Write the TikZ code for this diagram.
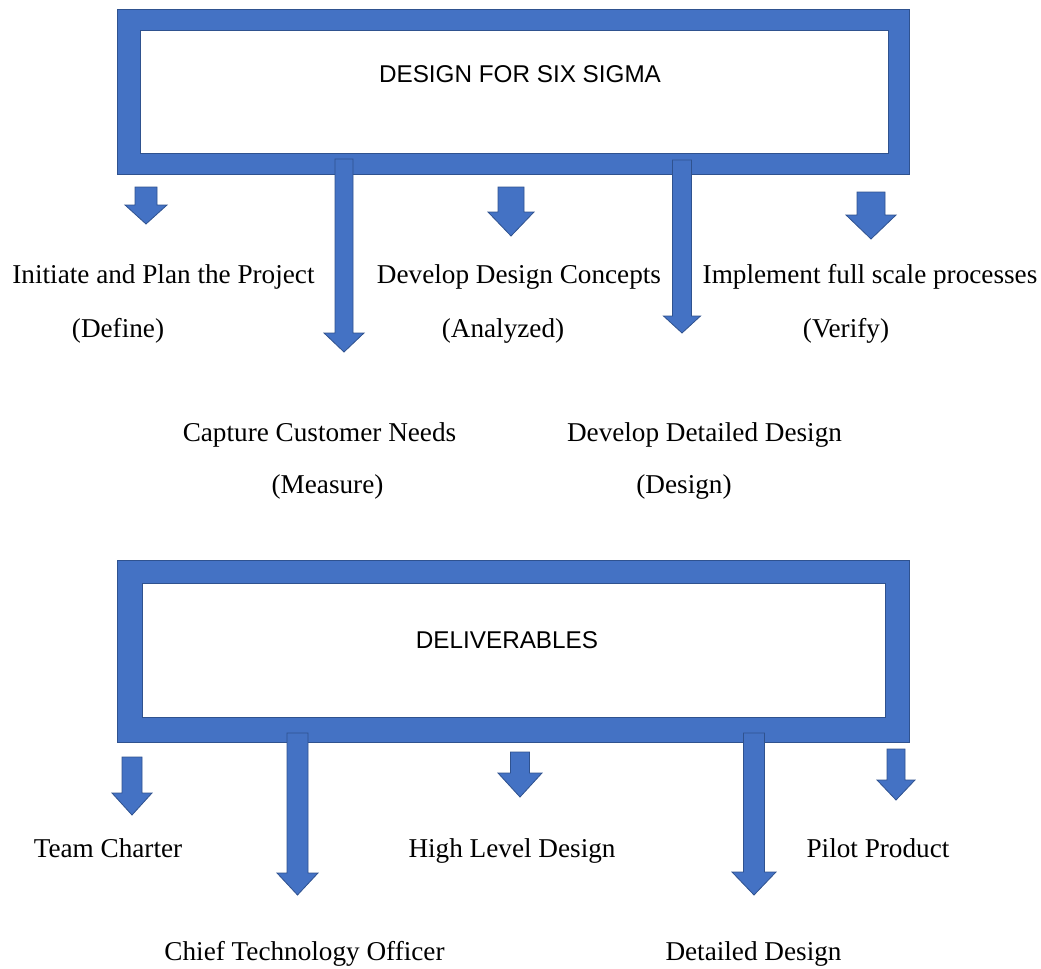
\documentclass[tikz,border=0pt]{standalone}
\usepackage{fontspec}
\setmainfont{Liberation Serif}
\setsansfont{Liberation Sans}
\usetikzlibrary{calc}

\definecolor{boxblue}{HTML}{4472C4}
\definecolor{edgeblue}{HTML}{2F528F}

% block arrow pointing down from a named top point to a named tip point
% #1 top, #2 tip, #3 shaft half width, #4 head half width, #5 head length (px)
\newcommand\blockdown[5]{%
  \path[arrowfill] let \p1=(#1), \p2=(#2) in
    ($(\x1,\y1)+(-#3,0)$) -- ($(\x1,\y1)+(#3,0)$) -- ($(\x1,\y2)+(#3,-#5)$)
    -- ($(\x1,\y2)+(#4,-#5)$) -- (\x1,\y2) -- ($(\x1,\y2)+(-#4,-#5)$)
    -- ($(\x1,\y2)+(-#3,-#5)$) -- cycle;}

\begin{document}
\begin{tikzpicture}[x=0.75pt,y=-0.75pt,
  framefill/.style={fill=boxblue,draw=edgeblue,line width=0.6pt,even odd rule},
  arrowfill/.style={fill=boxblue,draw=edgeblue,line width=0.6pt},
  title/.style={font=\sffamily\fontsize{18.2}{20}\selectfont,text=black},
  lbl/.style={font=\fontsize{20.4}{24}\selectfont,anchor=base,inner sep=0pt,text=black}]
\useasboundingbox (0,0) rectangle (1041,968);

% ---------- upper frame ----------
\path[framefill] (117,9) rectangle (909,174) (140,30) rectangle (888,153);
\node[title] (dfss) at (520,74) {DESIGN FOR SIX SIGMA};

\coordinate (a1t) at (146,187); \coordinate (a1b) at (146,224);
\coordinate (a2t) at (344,159); \coordinate (a2b) at (344,352);
\coordinate (a3t) at (511,187); \coordinate (a3b) at (511,236);
\coordinate (a4t) at (682,160); \coordinate (a4b) at (682,333);
\coordinate (a5t) at (871,192); \coordinate (a5b) at (871,239);

\blockdown{a1t}{a1b}{11}{21}{19}
\blockdown{a2t}{a2b}{9}{20}{19}
\blockdown{a3t}{a3b}{13}{23}{24}
\blockdown{a4t}{a4b}{9.5}{18.5}{17}
\blockdown{a5t}{a5b}{14}{25}{24}

\node[lbl] (define1) at (163.5,283) {Initiate and Plan the Project};
\node[lbl] (define2) at (118,337) {(Define)};
\node[lbl] (analyze1) at (519,283) {Develop Design Concepts};
\node[lbl] (analyze2) at (503,337) {(Analyzed)};
\node[lbl] (verify1) at (870,283) {Implement full scale processes};
\node[lbl] (verify2) at (846,337) {(Verify)};
\node[lbl] (measure1) at (319.5,441) {Capture Customer Needs};
\node[lbl] (measure2) at (327.5,493) {(Measure)};
\node[lbl] (design1) at (704.5,441) {Develop Detailed Design};
\node[lbl] (design2) at (684,493) {(Design)};

% ---------- lower frame ----------
\path[framefill] (117,560) rectangle (909,742) (142,583) rectangle (885,717);
\node[title] (deliv) at (507,640) {DELIVERABLES};

\coordinate (b1t) at (132,757); \coordinate (b1b) at (132,815);
\coordinate (b2t) at (297.5,733); \coordinate (b2b) at (297.5,895);
\coordinate (b3t) at (520,752); \coordinate (b3b) at (520,797);
\coordinate (b4t) at (754,733); \coordinate (b4b) at (754,895);
\coordinate (b5t) at (896,749); \coordinate (b5b) at (896,800);

\blockdown{b1t}{b1b}{10}{20}{22}
\blockdown{b2t}{b2b}{10.5}{20.5}{22}
\blockdown{b3t}{b3b}{9.5}{22}{24}
\blockdown{b4t}{b4b}{10.5}{22}{23}
\blockdown{b5t}{b5b}{9}{19}{20}

\node[lbl] (charter) at (108,857) {Team Charter};
\node[lbl] (hld) at (512,857) {High Level Design};
\node[lbl] (pilot) at (878,857) {Pilot Product};
\node[lbl] (cto) at (304.5,960) {Chief Technology Officer};
\node[lbl] (detailed) at (753.5,960) {Detailed Design};
\end{tikzpicture}
\end{document}
